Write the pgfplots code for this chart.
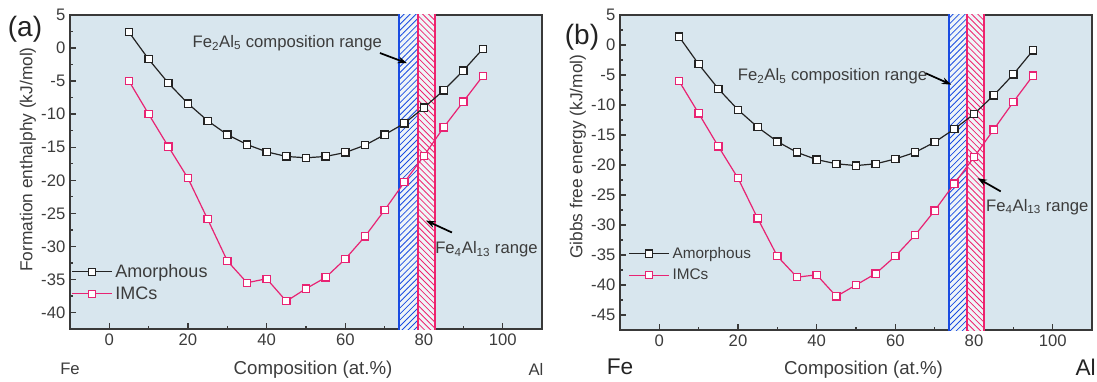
\documentclass[border=0pt]{standalone}
\usepackage{pgfplots}
\pgfplotsset{compat=1.18}
\usepackage{fontspec}
\setmainfont{Liberation Sans}
\usetikzlibrary{patterns.meta,arrows.meta}
\definecolor{bgc}{RGB}{216,230,238}
\definecolor{amc}{RGB}{35,35,35}
\definecolor{imc}{RGB}{232,35,115}
\definecolor{bblue}{RGB}{25,75,225}
\definecolor{bpink}{RGB}{238,35,110}
\definecolor{txt}{RGB}{60,60,60}
\tikzset{
  ann/.style={font=\fontsize{12.5}{14}\selectfont, text=txt, anchor=west, inner sep=0pt},
  arr/.style={-{Stealth[length=7pt,width=5pt]}, line width=1.3pt, black},
  lab/.style={font=\fontsize{14}{16}\selectfont, text=txt, anchor=center},
  ylab/.style={font=\fontsize{13}{15}\selectfont, text=txt, anchor=center, rotate=90},
}
\pgfplotsset{
  common/.style={
    scale only axis, width=354pt,
    xmin=-10, xmax=110,
    xtick={0,20,...,100}, minor x tick num=1,
    minor y tick num=1,
    xtick pos=lower, ytick pos=left,
    tick align=inside,
    major tick length=4.5pt, minor tick length=2.5pt,
    axis background/.style={fill=bgc},
    axis line style={line width=1.1pt, color=amc!90},
    every tick/.style={line width=1pt, color=amc!90},
    tick label style={font=\fontsize{12.5}{14}\selectfont, text=txt},
    /pgf/number format/assume math mode=true,
    clip mode=individual,
    legend cell align=left,
    legend image code/.code={\draw[mark repeat=2,mark phase=2,##1] plot coordinates {(0pt,0pt) (15pt,0pt) (30pt,0pt)};},
  },
  amor/.style={color=amc, line width=0.9pt, mark=square*, mark size=2.7pt, mark options={fill=white, line width=0.9pt, solid}},
  imcs/.style={color=imc, line width=0.9pt, mark=square*, mark size=2.7pt, mark options={fill=white, line width=0.9pt, solid}},
  bandb/.style={draw=bblue, line width=1.6pt, fill=white!60!bgc, forget plot,
    postaction={pattern={Lines[angle=45,distance=3.2pt,line width=0.6pt]}, pattern color=bblue}},
  bandp/.style={draw=bpink, line width=1.6pt, fill=white!60!bgc, forget plot,
    postaction={pattern={Lines[angle=-45,distance=3.2pt,line width=0.6pt]}, pattern color=bpink}},
}
\begin{document}
\begin{tikzpicture}
\useasboundingbox (0,0) rectangle (822.75pt,-286.5pt);
% ---------------- (a)
\begin{axis}[common,
  at={(52.5pt,-11.25pt)}, anchor=north west, height=235.5pt,
  ymin=-42.5, ymax=5, ytick={-40,-35,...,5},
  xlabel={Composition (at.\%)}, ylabel={Formation enthalphy (kJ/mol)},
  every axis x label/.style={at={(axis description cs:0.515,-0.13)}, lab},
  every axis y label/.style={at={(axis description cs:-0.089,0.54)}, ylab},
  legend style={at={(axis description cs:0.0,0.22)}, anchor=north west, draw=none, fill=none,
    font=\fontsize{13.5}{15}\selectfont, text=txt, inner sep=1pt, row sep=1.5pt},
]
\addplot[bandb] coordinates {(73.7,-60) (73.7,10) (78.5,10) (78.5,-60)} -- cycle;
\addplot[bandp] coordinates {(78.5,-60) (78.5,10) (82.8,10) (82.8,-60)} -- cycle;
\addplot[amor] coordinates {
(5,2.4) (10,-1.7) (15,-5.3) (20,-8.4) (25,-11.0) (30,-13.1) (35,-14.6) (40,-15.7)
(45,-16.4) (50,-16.6) (55,-16.4) (60,-15.8) (65,-14.7) (70,-13.1) (75,-11.4)
(80,-9.0) (85,-6.4) (90,-3.4) (95,-0.1)};
\addlegendentry{Amorphous}
\addplot[imcs] coordinates {
(5,-5.0) (10,-10.0) (15,-14.9) (20,-19.7) (25,-25.9) (30,-32.2) (35,-35.5) (40,-34.9)
(45,-38.3) (50,-36.4) (55,-34.7) (60,-31.9) (65,-28.5) (70,-24.5) (75,-20.3)
(80,-16.3) (85,-12.0) (90,-8.1) (95,-4.2)};
\addlegendentry{IMCs}
\node[ann] at (axis cs:21.1,0.75) {Fe\textsubscript{2}Al\textsubscript{5} composition range};
\draw[arr] (axis cs:68.8,-0.75) -- (axis cs:75.7,-2.3);
\node[ann] at (axis cs:82.8,-30.5) {Fe\textsubscript{4}Al\textsubscript{13} range};
\draw[arr] (axis cs:87.1,-27.9) -- (axis cs:80.5,-26.1);
\end{axis}
% ---------------- (b)
\begin{axis}[common,
  at={(465pt,-11.25pt)}, anchor=north west, height=236.25pt,
  ymin=-47.5, ymax=5, ytick={-45,-40,...,5},
  xlabel={Composition (at.\%)}, ylabel={Gibbs free energy (kJ/mol)},
  every axis x label/.style={at={(axis description cs:0.516,-0.127)}, lab},
  every axis y label/.style={at={(axis description cs:-0.089,0.55)}, ylab},
  legend style={at={(axis description cs:0.015,0.277)}, anchor=north west, draw=none, fill=none,
    font=\fontsize{11.5}{13}\selectfont, text=txt, inner sep=1pt, row sep=2.5pt},
]
\addplot[bandb] coordinates {(73.6,-60) (73.6,10) (78.3,10) (78.3,-60)} -- cycle;
\addplot[bandp] coordinates {(78.3,-60) (78.3,10) (82.5,10) (82.5,-60)} -- cycle;
\addplot[amor] coordinates {
(5,1.4) (10,-3.2) (15,-7.3) (20,-10.8) (25,-13.7) (30,-16.1) (35,-17.9) (40,-19.1)
(45,-19.8) (50,-20.1) (55,-19.8) (60,-19.0) (65,-17.9) (70,-16.2) (75,-14.0)
(80,-11.5) (85,-8.4) (90,-4.9) (95,-0.9)};
\addlegendentry{Amorphous}
\addplot[imcs] coordinates {
(5,-6.0) (10,-11.4) (15,-16.9) (20,-22.2) (25,-28.9) (30,-35.2) (35,-38.7) (40,-38.3)
(45,-41.9) (50,-40.0) (55,-38.1) (60,-35.2) (65,-31.7) (70,-27.6) (75,-23.1)
(80,-18.7) (85,-14.1) (90,-9.5) (95,-5.1)};
\addlegendentry{IMCs}
\node[ann] at (axis cs:19.9,-5.2) {Fe\textsubscript{2}Al\textsubscript{5} composition range};
\draw[arr] (axis cs:67.7,-4.7) -- (axis cs:74.2,-6.6);
\node[ann] at (axis cs:83.0,-27.0) {Fe\textsubscript{4}Al\textsubscript{13} range};
\draw[arr] (axis cs:86.8,-24.4) -- (axis cs:80.9,-22.2);
\end{axis}
% ---------------- outer labels
\node[font=\fontsize{21}{24}\selectfont, text=amc] at (18.75pt,-21.75pt) {(a)};
\node[font=\fontsize{21}{24}\selectfont, text=amc] at (436.5pt,-27.75pt) {(b)};
\node[font=\fontsize{12.5}{14}\selectfont, text=txt] at (52.5pt,-276.75pt) {Fe};
\node[font=\fontsize{12.5}{14}\selectfont, text=txt] at (402pt,-276.75pt) {Al};
\node[font=\fontsize{17}{19}\selectfont, text=amc] at (465pt,-275.25pt) {Fe};
\node[font=\fontsize{17}{19}\selectfont, text=amc, anchor=east, inner sep=0pt] at (822pt,-275.25pt) {Al};
\end{tikzpicture}
\end{document}
